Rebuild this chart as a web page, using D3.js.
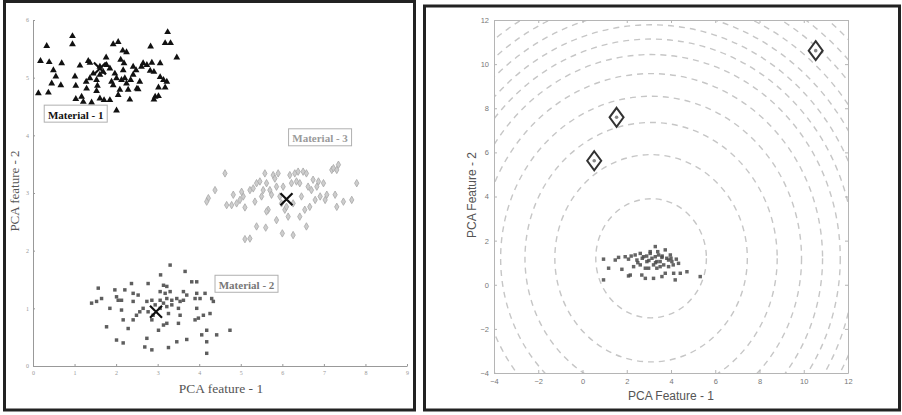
<!DOCTYPE html>
<html>
<head>
<meta charset="utf-8">
<script src="https://cdn.jsdelivr.net/npm/d3@7"></script>
<style>
  body { margin: 0; background: #fff; }
  text { font-family: "Liberation Serif", "Times New Roman", serif; }
</style>
</head>
<body>
<svg id="chart" width="902" height="415"></svg>
<script>
// left panel: three material clusters in PCA space
const material1 = [
  [0.95,5.72],[0.95,5.58],[0.33,5.55],[3.24,5.79],[3.18,5.60],[3.31,5.60],[3.46,5.35],[0.18,5.29],
  [0.39,5.27],[0.69,5.25],[0.49,5.13],[0.55,5.02],[0.45,4.90],[0.37,4.74],[0.13,4.73],[0.67,4.87],
  [1.01,5.02],[1.03,4.86],[1.13,5.21],[1.33,5.29],[1.37,5.26],[1.03,4.63],[1.17,4.67],[1.21,4.58],
  [1.41,4.57],[1.28,4.93],[1.53,4.77],[1.55,4.86],[1.61,4.64],[1.71,4.61],[1.85,4.61],[1.53,4.96],
  [1.61,5.05],[1.69,5.10],[1.76,5.35],[1.77,5.22],[1.85,5.16],[1.93,5.58],[2.05,5.62],[2.16,5.47],
  [2.25,5.44],[2.11,5.31],[2.19,5.25],[2.17,5.13],[1.97,5.07],[2.01,4.99],[2.13,4.96],[2.21,4.99],
  [2.25,4.90],[2.35,4.96],[2.41,5.05],[2.09,4.79],[2.29,4.79],[2.33,4.62],[2.05,4.70],[2.50,4.81],
  [2.53,4.80],[2.57,4.93],[2.61,5.19],[2.65,5.25],[2.74,5.22],[2.82,5.12],[2.91,5.10],[2.83,5.54],
  [2.86,5.26],[3.06,5.25],[3.02,4.83],[3.14,4.96],[3.22,4.93],[3.18,4.83],[2.94,4.67],[3.02,4.68],
  [2.91,4.62],[3.06,5.01],[2.01,4.43],[1.61,5.19],[1.45,5.07],[1.37,4.99],[1.29,4.81],[1.93,4.87],
  [1.89,4.93],[2.41,5.19],[2.48,5.13]
];

const material2 = [
  [3.30,1.75],[3.66,1.64],[3.07,1.58],[2.37,1.43],[2.77,1.43],[3.14,1.40],[3.22,1.38],[3.82,1.46],
  [3.94,1.46],[1.57,1.35],[1.97,1.32],[2.21,1.32],[2.41,1.26],[2.53,1.23],[3.06,1.29],[3.18,1.26],
  [3.30,1.29],[3.62,1.29],[3.70,1.23],[3.94,1.26],[4.14,1.26],[4.30,1.17],[4.34,1.12],[1.65,1.17],
  [1.53,1.12],[1.41,1.09],[2.01,1.20],[2.05,1.14],[2.13,1.14],[2.41,1.12],[2.74,1.12],[2.86,1.14],
  [3.06,1.14],[3.14,1.09],[3.22,1.17],[3.34,1.14],[3.46,1.17],[3.54,1.12],[3.62,1.14],[3.90,1.17],
  [4.02,1.17],[2.94,1.06],[2.65,1.00],[2.57,0.94],[2.49,0.88],[2.77,0.94],[2.89,0.88],[2.86,0.80],
  [3.06,1.00],[3.22,1.03],[3.34,1.06],[3.50,1.00],[3.54,0.88],[3.26,0.91],[3.94,1.00],[4.26,0.91],
  [4.10,0.88],[3.90,0.80],[3.98,0.83],[2.13,0.97],[2.17,0.80],[2.41,0.80],[1.85,1.00],[1.77,0.68],
  [2.29,0.65],[3.14,0.71],[3.22,0.74],[3.02,0.62],[3.50,0.74],[4.18,0.62],[4.42,0.54],[4.74,0.62],
  [4.06,0.54],[4.18,0.42],[3.70,0.46],[3.46,0.42],[2.74,0.48],[2.01,0.45],[2.17,0.40],[2.69,0.33],
  [2.86,0.28],[3.26,0.32],[4.18,0.22]
];

const material3 = [
  [4.62,3.34],[4.38,3.05],[4.22,2.91],[4.18,2.85],[4.66,2.79],[4.78,2.79],[4.90,2.82],[4.98,2.88],
  [5.06,2.94],[5.10,2.75],[5.22,3.05],[5.30,3.08],[5.34,2.85],[5.38,3.17],[5.46,3.20],[5.50,2.94],
  [5.54,3.05],[5.58,3.34],[5.62,3.17],[5.66,2.71],[5.70,3.05],[5.74,2.97],[5.78,3.31],[5.82,3.25],
  [5.86,3.11],[5.90,3.34],[5.94,2.94],[5.98,2.82],[6.02,3.11],[6.06,2.71],[6.10,2.76],[6.14,2.59],
  [6.18,3.31],[6.22,3.17],[6.26,2.82],[6.30,3.34],[6.34,3.20],[6.38,3.37],[6.42,3.17],[6.46,2.94],
  [6.50,3.37],[6.54,2.71],[6.58,3.34],[6.62,3.11],[6.66,2.76],[6.70,3.05],[6.74,3.23],[6.79,2.88],
  [6.83,3.11],[6.87,3.20],[6.91,2.94],[6.99,3.17],[7.03,2.88],[7.07,2.97],[7.19,3.40],[7.23,3.43],
  [7.31,3.40],[7.35,3.49],[7.27,2.97],[7.31,2.76],[7.47,2.85],[7.67,2.88],[7.79,3.17],[5.38,2.42],
  [5.22,2.21],[6.26,2.27],[6.58,2.42],[6.42,2.59],[5.86,2.53],[5.62,2.68],[5.02,3.02],[4.82,2.97],
  [5.10,2.20],[6.00,2.30],[5.60,2.40]
];

const centroids = [[1.61,5.16],[2.96,0.94],[6.10,2.89]];

const materialLabels = [
  { name: "Material - 1", x: 0.27, y: 4.35, color: "#111", weight: "bold" },
  { name: "Material - 2", x: 4.38, y: 1.40, color: "#777", weight: "bold" },
  { name: "Material - 3", x: 6.15, y: 3.94, color: "#9a9a9a", weight: "bold" }
];

const leftXTicks = [0,1,2,3,4,5,6,7,8,9];
const leftYTicks = [0,1,2,3,4,5,6];

// right panel: training cluster, test points and distance contours
const trainPoints = [
  [3.29,1.73],[0.95,1.16],[1.18,0.75],[0.95,0.22],[1.48,1.12],[1.63,1.24],[1.78,0.70],[1.93,1.27],
  [2.08,1.16],[2.16,0.44],[2.31,0.82],[2.38,1.35],[2.46,1.12],[2.61,0.90],[2.68,0.44],[2.76,1.27],
  [2.84,0.29],[2.91,1.05],[2.99,0.75],[3.06,1.42],[3.14,1.20],[3.21,0.90],[3.29,1.27],[3.36,0.75],
  [3.44,1.35],[3.51,1.05],[3.59,0.37],[3.67,0.90],[3.74,1.58],[3.81,1.20],[3.89,0.82],[3.97,1.35],
  [4.04,1.05],[4.12,0.52],[4.19,0.22],[4.24,1.16],[4.34,0.97],[4.42,0.52],[4.72,0.59],[5.32,0.37],
  [3.21,0.29],[3.06,1.50],[3.36,1.05],[3.59,1.24],[3.74,0.52],[2.08,0.40],[2.61,1.42],[2.84,0.75],
  [3.51,0.82],[3.89,1.12],[2.20,1.30],[2.50,1.00],[3.00,1.10],[3.30,1.00],[3.60,1.30],[4.00,1.20],
  [2.90,1.30],[3.40,1.50],[2.70,1.20],[4.10,0.90]
];

const testPoints = [[0.53,5.62],[1.54,7.59],[10.54,10.61]];

const ringCenter = [3.1, 1.2];
const ringRadii = [2.5,4.35,5.7,6.8,7.75,8.55,9.2,9.8,10.4,11.0,11.6,12.2,12.8,13.4,14.0,14.6];
const ringAspect = 1.08;

const rightTicks = [-4,-2,0,2,4,6,8,10,12];

const svg = d3.select("#chart");

// panel frames
svg.append("rect").attr("x", 4.5).attr("y", 1.5).attr("width", 410).attr("height", 408.5)
  .attr("fill", "none").attr("stroke", "#222").attr("stroke-width", 3);
svg.append("rect").attr("x", 424.5).attr("y", 6).attr("width", 475).attr("height", 404)
  .attr("fill", "none").attr("stroke", "#222").attr("stroke-width", 3);

// ---------- left panel ----------
const x1 = d3.scaleLinear().domain([0, 9]).range([33, 407]);
const y1 = d3.scaleLinear().domain([0, 6]).range([366, 20]);

const left = svg.append("g");

const xAx1 = left.append("g").attr("transform", "translate(0,366)")
  .call(d3.axisBottom(x1).tickValues(leftXTicks).tickFormat(d3.format("d"))
    .tickSizeInner(-2).tickSizeOuter(0).tickPadding(5));
const yAx1 = left.append("g").attr("transform", "translate(33,0)")
  .call(d3.axisLeft(y1).tickValues(leftYTicks).tickFormat(d3.format("d"))
    .tickSizeInner(-2).tickSizeOuter(0).tickPadding(4));
[xAx1, yAx1].forEach(a => {
  a.selectAll("path,line").attr("stroke", "#999");
  a.selectAll("text").attr("fill", "#999").style("font-size", "6px")
    .style("font-family", "Liberation Serif, serif");
});

const sym = (type, size) => d3.symbol().type(type).size(size)();

left.append("g").selectAll("path").data(material3).join("path")
  .attr("transform", d => `translate(${x1(d[0])},${y1(d[1])})`)
  .attr("d", sym(d3.symbolDiamond, 16))
  .attr("fill", "#cdcdcd").attr("stroke", "#a8a8a8").attr("stroke-width", 0.8);

left.append("g").selectAll("path").data(material2).join("path")
  .attr("transform", d => `translate(${x1(d[0])},${y1(d[1])})`)
  .attr("d", sym(d3.symbolSquare, 12))
  .attr("fill", "#5e5e5e");

left.append("g").selectAll("path").data(material1).join("path")
  .attr("transform", d => `translate(${x1(d[0])},${y1(d[1])})`)
  .attr("d", sym(d3.symbolTriangle, 20))
  .attr("fill", "#111");

left.append("g").selectAll("path").data(centroids).join("path")
  .attr("transform", d => `translate(${x1(d[0])},${y1(d[1])})`)
  .attr("d", "M-6,-6L6,6M-6,6L6,-6")
  .attr("stroke", "#111").attr("stroke-width", 2.2).attr("fill", "none");

const lab = left.append("g").selectAll("g").data(materialLabels).join("g")
  .attr("transform", d => `translate(${x1(d.x)},${y1(d.y)})`);
lab.append("rect").attr("x", 0).attr("y", -10).attr("width", 63).attr("height", 17)
  .attr("fill", "#fff").attr("stroke", "#b0b0b0").attr("stroke-width", 1);
lab.append("text").attr("x", 31.5).attr("y", 3.5).attr("text-anchor", "middle")
  .attr("fill", d => d.color).style("font-weight", d => d.weight).style("font-size", "11px")
  .text(d => d.name);

left.append("text").attr("x", 221).attr("y", 393).attr("text-anchor", "middle")
  .attr("fill", "#555").style("font-size", "13.5px").text("PCA feature - 1");
left.append("text").attr("transform", "translate(19,191) rotate(-90)").attr("text-anchor", "middle")
  .attr("fill", "#555").style("font-size", "13px").text("PCA feature - 2");

// ---------- right panel ----------
const x2 = d3.scaleLinear().domain([-4, 12]).range([494, 848]);
const y2 = d3.scaleLinear().domain([-4, 12]).range([373, 20]);

const right = svg.append("g");

right.append("clipPath").attr("id", "clipR").append("rect")
  .attr("x", 494).attr("y", 20).attr("width", 354).attr("height", 353);

const kx = x2(1) - x2(0), ky = y2(0) - y2(1);
right.append("g").attr("clip-path", "url(#clipR)").selectAll("ellipse").data(ringRadii).join("ellipse")
  .attr("cx", x2(ringCenter[0])).attr("cy", y2(ringCenter[1]))
  .attr("rx", r => r * kx).attr("ry", r => r * ky * ringAspect)
  .attr("fill", "none").attr("stroke", "#c6c6c6").attr("stroke-width", 1.4)
  .attr("stroke-dasharray", "6,5");

const sans = "Liberation Sans, Arial, sans-serif";
const styleAxis = a => {
  a.selectAll("path,line").attr("stroke", "#b5b5b5");
  a.selectAll("text").attr("fill", "#777").style("font-size", "7.5px").style("font-family", sans);
};
styleAxis(right.append("g").attr("transform", "translate(0,373)")
  .call(d3.axisBottom(x2).tickValues(rightTicks).tickSizeInner(-3).tickSizeOuter(0).tickPadding(6)));
styleAxis(right.append("g").attr("transform", "translate(494,0)")
  .call(d3.axisLeft(y2).tickValues(rightTicks).tickSizeInner(-3).tickSizeOuter(0).tickPadding(5)));
styleAxis(right.append("g").attr("transform", "translate(0,20)")
  .call(d3.axisTop(x2).tickValues(rightTicks).tickSizeInner(-3).tickSizeOuter(0).tickFormat("")));
styleAxis(right.append("g").attr("transform", "translate(848,0)")
  .call(d3.axisRight(y2).tickValues(rightTicks).tickSizeInner(-3).tickSizeOuter(0).tickFormat("")));

right.append("g").selectAll("path").data(trainPoints).join("path")
  .attr("transform", d => `translate(${x2(d[0])},${y2(d[1])})`)
  .attr("d", sym(d3.symbolSquare, 12))
  .attr("fill", "#4a4a4a").attr("fill-opacity", 0.85);

const tp = right.append("g").selectAll("g").data(testPoints).join("g")
  .attr("transform", d => `translate(${x2(d[0])},${y2(d[1])})`);
tp.append("path").attr("d", "M0,-9.5L7,0L0,9.5L-7,0Z")
  .attr("fill", "#fff").attr("stroke", "#333").attr("stroke-width", 2);
tp.append("circle").attr("r", 1.8).attr("fill", "#888");

right.append("text").attr("x", 671).attr("y", 400).attr("text-anchor", "middle")
  .attr("fill", "#555").style("font-size", "12px").style("font-family", sans).text("PCA Feature - 1");
right.append("text").attr("transform", "translate(476,195) rotate(-90)").attr("text-anchor", "middle")
  .attr("fill", "#555").style("font-size", "12px").style("font-family", sans).text("PCA Feature - 2");
</script>
</body>
</html>
